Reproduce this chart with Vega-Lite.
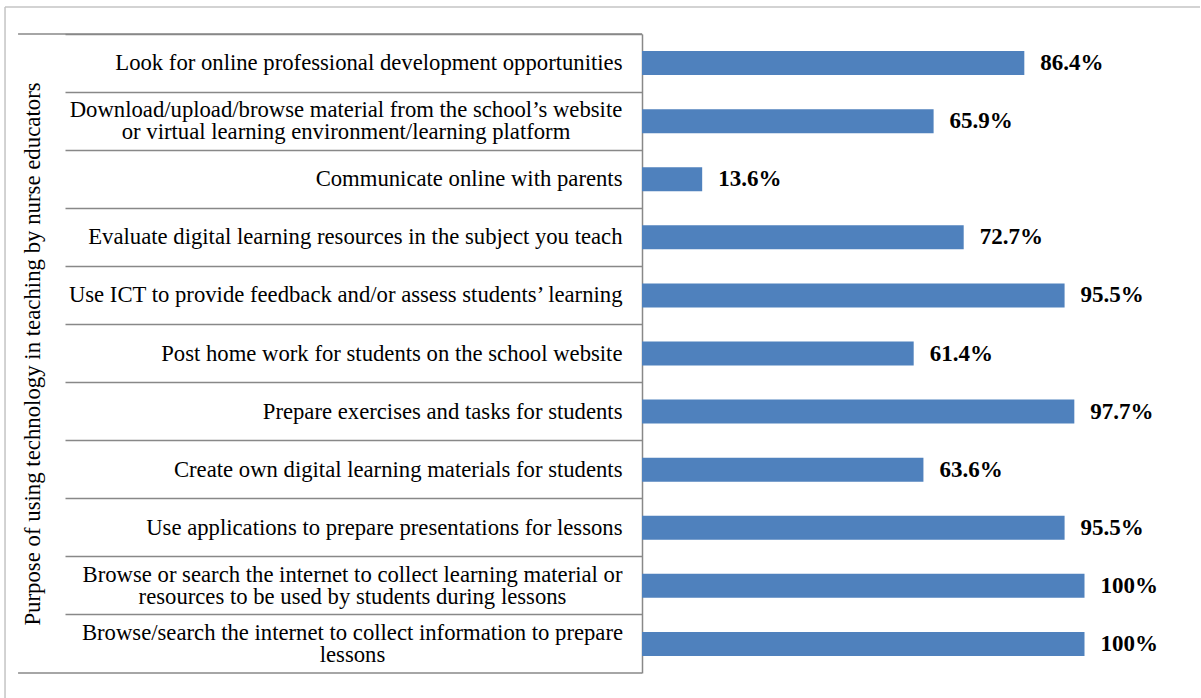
{
  "$schema": "https://vega.github.io/schema/vega-lite/v6.json",
  "width": 531,
  "height": 639,
  "autosize": {"type": "none"},
  "padding": {"left": 642, "top": 34, "right": 28, "bottom": 25},
  "background": "white",
  "config": {"view": {"stroke": null}},
  "resolve": {"scale": {"y": "independent"}},
  "layer": [
    {
      "data": {
        "values": [
          {"purpose": "Look for online professional development opportunities", "value": 86.4, "pct": "86.4%"},
          {"purpose": "Download/upload/browse material from the school’s website|or virtual learning environment/learning platform", "value": 65.9, "pct": "65.9%"},
          {"purpose": "Communicate online with parents", "value": 13.6, "pct": "13.6%"},
          {"purpose": "Evaluate digital learning resources in the subject you teach", "value": 72.7, "pct": "72.7%"},
          {"purpose": "Use ICT to provide feedback and/or assess students’ learning", "value": 95.5, "pct": "95.5%"},
          {"purpose": "Post home work for students on the school website", "value": 61.4, "pct": "61.4%"},
          {"purpose": "Prepare exercises and tasks for students", "value": 97.7, "pct": "97.7%"},
          {"purpose": "Create own digital learning materials for students", "value": 63.6, "pct": "63.6%"},
          {"purpose": "Use applications to prepare presentations for lessons", "value": 95.5, "pct": "95.5%"},
          {"purpose": "Browse or search the internet to collect learning material or|resources to be used by students during lessons", "value": 100, "pct": "100%"},
          {"purpose": "Browse/search the internet to collect information to prepare|lessons", "value": 100, "pct": "100%"}
        ]
      },
      "encoding": {
        "y": {
          "field": "purpose",
          "type": "nominal",
          "sort": null,
          "scale": {"paddingInner": 0, "paddingOuter": 0},
          "axis": {
            "title": "Purpose of using technology in teaching by nurse educators",
            "titleFont": "Liberation Serif",
            "titleFontSize": 22.8,
            "titleFontWeight": "normal",
            "titleColor": "#000000",
            "titlePadding": 20,
            "minExtent": 0,
            "maxExtent": 1000,
            "bandPosition": 0,
            "ticks": true,
            "tickSize": 577,
            "tickColor": "#888888",
            "tickWidth": 1.5,
            "domain": true,
            "domainColor": "#888888",
            "domainWidth": 1.5,
            "grid": false,
            "labelExpr": "split(datum.value, '|')",
            "labelFont": "Liberation Serif",
            "labelFontSize": 22.7,
            "labelLineHeight": 22,
            "labelColor": "#000000",
            "labelAlign": {"condition": {"test": "indexof(datum.value, '|') >= 0", "value": "center"}, "value": "right"},
            "labelPadding": {"condition": [
              {"test": "indexof(datum.value, 'Download') === 0", "value": -280.5},
              {"test": "indexof(datum.value, '|') >= 0", "value": -287}
            ], "value": -557},
            "labelOffset": {"condition": {"test": "indexof(datum.value, '|') >= 0", "value": -11}, "value": 0},
            "labelLimit": 1000
          }
        },
        "x": {
          "field": "value",
          "type": "quantitative",
          "scale": {"domain": [0, 120], "nice": false, "zero": true},
          "axis": {
            "title": null,
            "labels": false,
            "ticks": false,
            "domain": false,
            "grid": true,
            "values": [0, 20, 40, 60, 80, 100, 120],
            "gridColor": "#888888",
            "gridWidth": 1.5,
            "gridOpacity": 1
          }
        }
      },
      "layer": [
        {"mark": {"type": "bar", "size": 24, "color": "#4F81BD"}},
        {
          "mark": {
            "type": "text",
            "align": "left",
            "baseline": "middle",
            "dx": 16,
            "font": "Liberation Serif",
            "fontWeight": "bold",
            "fontSize": 23,
            "color": "#000000"
          },
          "encoding": {"text": {"field": "pct"}}
        }
      ]
    },
    {
      "data": {"values": [{}]},
      "layer": [
        {
          "mark": {"type": "rule", "color": "#888888", "strokeWidth": 1.5},
          "encoding": {
            "x": {"datum": -141.0, "type": "quantitative", "scale": {"domain": [0, 120], "nice": false}, "axis": null},
            "x2": {"datum": 0},
            "y": {"datum": 1, "type": "quantitative", "scale": {"domain": [0, 1], "nice": false, "zero": false}, "axis": null}
          }
        },
        {
          "mark": {"type": "rule", "color": "#888888", "strokeWidth": 1.5},
          "encoding": {
            "x": {"datum": -141.0, "type": "quantitative", "scale": {"domain": [0, 120], "nice": false}, "axis": null},
            "x2": {"datum": 0},
            "y": {"datum": 0, "type": "quantitative", "scale": {"domain": [0, 1], "nice": false, "zero": false}, "axis": null}
          }
        },
        {
          "mark": {"type": "rule", "color": "#C4C4C4", "strokeWidth": 1.5},
          "encoding": {
            "x": {"datum": -143.95, "type": "quantitative", "scale": {"domain": [0, 120], "nice": false}, "axis": null},
            "x2": {"datum": 126.1},
            "y": {"datum": 1.04225, "type": "quantitative", "scale": {"domain": [0, 1], "nice": false, "zero": false}, "axis": null}
          }
        },
        {
          "mark": {"type": "rule", "color": "#C4C4C4", "strokeWidth": 1.5},
          "encoding": {
            "x": {"datum": -143.95, "type": "quantitative", "scale": {"domain": [0, 120], "nice": false}, "axis": null},
            "y": {"datum": 1.04225, "type": "quantitative", "scale": {"domain": [0, 1], "nice": false, "zero": false}, "axis": null},
            "y2": {"datum": -0.039}
          }
        }
      ]
    }
  ]
}
